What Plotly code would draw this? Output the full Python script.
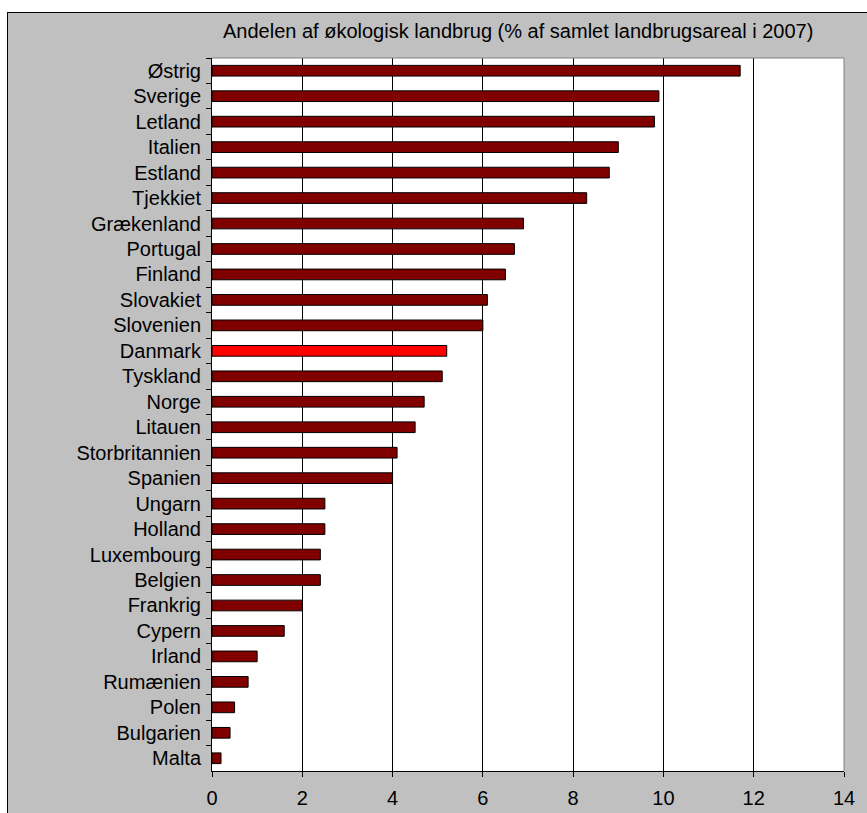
import plotly.graph_objects as go

# Share of organic farming, % of total agricultural area, 2007
countries = [
    "Østrig", "Sverige", "Letland", "Italien", "Estland", "Tjekkiet",
    "Grækenland", "Portugal", "Finland", "Slovakiet", "Slovenien", "Danmark",
    "Tyskland", "Norge", "Litauen", "Storbritannien", "Spanien", "Ungarn",
    "Holland", "Luxembourg", "Belgien", "Frankrig", "Cypern", "Irland",
    "Rumænien", "Polen", "Bulgarien", "Malta",
]
shares = [
    11.7, 9.9, 9.8, 9.0, 8.8, 8.3,
    6.9, 6.7, 6.5, 6.1, 6.0, 5.2,
    5.1, 4.7, 4.5, 4.1, 4.0, 2.5,
    2.5, 2.4, 2.4, 2.0, 1.6, 1.0,
    0.8, 0.5, 0.4, 0.2,
]
highlight = "Danmark"
x_ticks = [0, 2, 4, 6, 8, 10, 12, 14]

title_text = "Andelen af økologisk landbrug (% af samlet landbrugsareal i 2007)"

W, H = 867, 813
L, R, T, B = 212, 23, 58, 42
pw, ph = W - L - R, H - T - B


def px_x(px):
    return (px - L) / pw


def px_y(py):
    return (H - B - py) / ph


FONT = "Liberation Sans, Arial, sans-serif"
bar_colors = ["#FF0000" if c == highlight else "#800000" for c in countries]

fig = go.Figure(
    go.Bar(
        x=shares,
        y=countries,
        orientation="h",
        marker=dict(color=bar_colors, line=dict(color="#000000", width=1)),
        width=0.42,
        hoverinfo="x+y",
    )
)

shapes = [
    # white strip outside the chart frame
    dict(type="rect", xref="paper", yref="paper", x0=px_x(-5), x1=px_x(7),
         y0=px_y(H + 5), y1=px_y(-5), fillcolor="white", line=dict(width=0), layer="above"),
    dict(type="rect", xref="paper", yref="paper", x0=px_x(-5), x1=px_x(W + 5),
         y0=px_y(12), y1=px_y(-5), fillcolor="white", line=dict(width=0), layer="above"),
    # chart frame (top and left edges)
    dict(type="line", xref="paper", yref="paper", x0=px_x(7.5), x1=px_x(7.5),
         y0=px_y(12), y1=px_y(H + 5), line=dict(color="#000000", width=1), layer="above"),
    dict(type="line", xref="paper", yref="paper", x0=px_x(7), x1=px_x(W + 5),
         y0=px_y(12.5), y1=px_y(12.5), line=dict(color="#000000", width=1), layer="above"),
    # plot-area border (top and right)
    dict(type="line", xref="paper", yref="paper", x0=0, x1=1, y0=1, y1=1,
         line=dict(color="#808080", width=1), layer="above"),
    dict(type="line", xref="paper", yref="paper", x0=1, x1=1, y0=0, y1=1,
         line=dict(color="#808080", width=1), layer="above"),
]

fig.update_layout(
    width=W,
    height=H,
    margin=dict(l=L, r=R, t=T, b=B, pad=0, autoexpand=False),
    paper_bgcolor="#C0C0C0",
    plot_bgcolor="#FFFFFF",
    font=dict(family=FONT, size=20, color="#000000"),
    showlegend=False,
    bargap=0.58,
    shapes=shapes,
    annotations=[
        dict(text=title_text, xref="paper", yref="paper", x=px_x(518), y=px_y(31),
             xanchor="center", yanchor="middle", showarrow=False,
             font=dict(family=FONT, size=20, color="#000000")),
    ],
    xaxis=dict(
        range=[0, 14],
        tickvals=x_ticks,
        ticktext=[str(v) for v in x_ticks],
        tickfont=dict(size=20),
        automargin=False,
        showgrid=True,
        gridcolor="#000000",
        gridwidth=1,
        showline=True,
        linecolor="#000000",
        linewidth=1,
        ticks="outside",
        ticklen=5,
        tickcolor="#000000",
        ticklabelstandoff=4,
        zeroline=False,
        fixedrange=True,
    ),
    yaxis=dict(
        categoryorder="array",
        categoryarray=countries,
        autorange="reversed",
        tickfont=dict(size=20),
        automargin=False,
        showgrid=False,
        showline=True,
        linecolor="#000000",
        linewidth=1,
        ticks="outside",
        ticklen=5,
        tickcolor="#000000",
        tickson="boundaries",
        ticklabelstandoff=6,
        zeroline=False,
        fixedrange=True,
    ),
)

fig.write_html("out.html")
